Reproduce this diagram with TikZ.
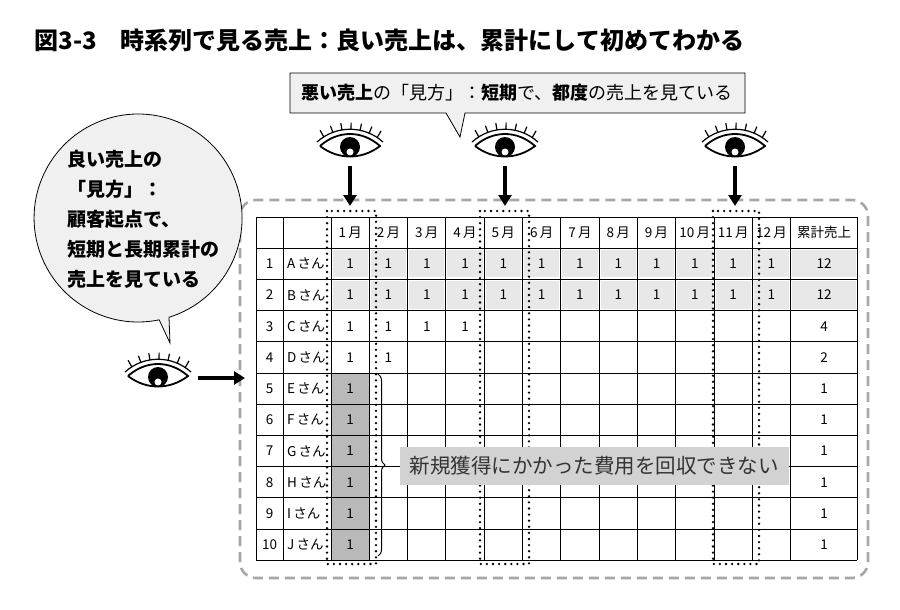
\documentclass[tikz,border=0pt]{standalone}
\usepackage{fontspec}
\setmainfont{Noto Sans CJK JP}
\usetikzlibrary{decorations.pathreplacing,arrows.meta}
\begin{document}
\begin{tikzpicture}[x=1pt,y=-1pt,
  eyepic/.pic={
    \fill[white] (-30,0) .. controls (-12,-16) and (12,-16) .. (30,0) .. controls (12,14) and (-12,14) .. (-30,0);
    \begin{scope}
      \clip (-30,0) .. controls (-12,-16) and (12,-16) .. (30,0) .. controls (12,14) and (-12,14) .. (-30,0);
      \fill[black] (0,1) circle (10);
    \end{scope}
    \fill[white] (0,6) circle (3.5);
    \draw[line width=1.8] (-30,0) .. controls (-12,-16) and (12,-16) .. (30,0) .. controls (12,14) and (-12,14) .. (-30,0);
    \draw[line width=1.2] (-33,-4) .. controls (-14,-21) and (14,-21) .. (33,-4);
    \foreach \u in {-26,-17,-8,1,10,19,27}{
      \draw[line width=1.2] (\u,{-4-12.5*(1-(\u/33)^2)}) -- ({\u*1.15},{-11-12.5*(1-(\u/33)^2)});
    }
  },
  cell/.style={font=\fontsize{13.5}{13.5}\selectfont},
  dotrect/.style={line width=2.6,dash pattern=on 0pt off 6.1pt,line cap=round},
  bigarrow/.style={line width=3.2,-{Triangle[length=11pt,width=13pt]}},
  callout/.style={fill=gray!12,draw=black,line width=0.8}
]
\useasboundingbox (0,0) rectangle (900,610);
\fill[white] (0,0) rectangle (900,610);

\node[anchor=west,font=\bfseries\fontsize{24}{24}\selectfont] (title) at (31,40) {図3-3\quad 時系列で見る売上：良い売上は、累計にして初めてわかる};

% top callout
\draw[callout] (290,73) -- (745,73) -- (745,113) -- (465,113) -- (460,137) -- (446,113) -- (290,113) -- cycle;
\node[font=\fontsize{18}{18}\selectfont] (topcall) at (517,93) {\textbf{悪い売上}の「見方」：\textbf{短期}で、\textbf{都度}の売上を見ている};

% dashed frame
\draw[gray!70,line width=2.6,dash pattern=on 10pt off 6pt,rounded corners=16] (240,200) rectangle (868,578);

% left bubble
\coordinate (btip) at (170,343);
\draw[callout] (btip) -- (169,317.3) arc[start angle=72.7,end angle=-281.7,radius=104] -- cycle;
\node[anchor=north west,align=left,font=\bfseries\fontsize{19}{30}\selectfont] (bubble) at (64,147) {良い売上の\\「見方」：\\顧客起点で、\\短期と長期累計の\\売上を見ている};

% table
\def\mw{38.3}
\def\rh{31.2}
\foreach \r in {1,2}{
  \foreach \k in {1,...,12}{
    \fill[gray!18] ({331+\mw*(\k-1)+1.5},{217+\rh*\r+2}) rectangle ({331+\mw*\k-1.5},{217+\rh*(\r+1)-2});
  }
  \fill[gray!18] (792,{217+\rh*\r+2}) rectangle (855.5,{217+\rh*(\r+1)-2});
}
\fill[gray!55] (331,{217+\rh*5}) rectangle ({331+\mw},{217+\rh*11});
\foreach \r in {0,...,11}{ \draw[line width=0.9] (256,{217+\rh*\r}) -- (857,{217+\rh*\r}); }
\foreach \xx in {256,283}{ \draw[line width=0.9] (\xx,217) -- (\xx,{217+\rh*11}); }
\foreach \k in {0,...,12}{ \draw[line width=0.9] ({331+\mw*\k},217) -- ({331+\mw*\k},{217+\rh*11}); }
\draw[line width=0.9] (857,217) -- (857,{217+\rh*11});
\foreach \k in {1,...,12}{ \node[cell] (h\k) at ({331+\mw*(\k-0.5)},{217+\rh*0.5}) {\k\,月}; }
\node[cell] (htot) at (824,{217+\rh*0.5}) {累計売上};
\foreach \r/\nm/\tot in {1/A/12,2/B/12,3/C/4,4/D/2,5/E/1,6/F/1,7/G/1,8/H/1,9/I/1,10/J/1}{
  \node[cell] (n\r) at (269.5,{217+\rh*(\r+0.5)}) {\r};
  \node[cell,anchor=west,inner xsep=1pt] (c\r) at (286,{217+\rh*(\r+0.5)}) {\nm\,さん};
  \node[cell] (t\r) at (824,{217+\rh*(\r+0.5)}) {\tot};
}
\foreach \r in {1,2}{ \foreach \k in {1,...,12}{ \node[cell] (v\r-\k) at ({331+\mw*(\k-0.5)},{217+\rh*(\r+0.5)}) {1}; } }
\foreach \k in {1,...,4}{ \node[cell] (v3-\k) at ({331+\mw*(\k-0.5)},{217+\rh*3.5}) {1}; }
\foreach \k in {1,2}{ \node[cell] (v4-\k) at ({331+\mw*(\k-0.5)},{217+\rh*4.5}) {1}; }
\foreach \r in {5,...,10}{ \node[cell] (v\r-1) at ({331+\mw*0.5},{217+\rh*(\r+0.5)}) {1}; }

% dotted rectangles
\draw[dotrect] (327,211) rectangle (376,564);
\draw[dotrect] (480,211) rectangle (529,564);
\draw[dotrect] (713,211) rectangle (759,564);

% brace and label
\coordinate (bt) at (378,374);
\coordinate (bb) at (378,556);
\draw[line width=1,decorate,decoration={brace,amplitude=7pt}] (bt) -- (bb);
\node[fill=gray!35,text=black!80,minimum height=38pt,inner xsep=10pt,font=\fontsize{20.5}{20.5}\selectfont] (lost) at (594,466) {新規獲得にかかった費用を回収できない};

% eyes and arrows
\pic at (350,146) {eyepic};
\pic at (505,146) {eyepic};
\pic at (735,146) {eyepic};
\pic at (158,376) {eyepic};
\foreach \i/\xx in {1/350,2/505,3/735}{
  \coordinate (es\i) at (\xx,166);
  \coordinate (ee\i) at (\xx,206);
  \draw[bigarrow] (es\i) -- (ee\i);
}
\coordinate (ls) at (198,378);
\coordinate (le) at (245,378);
\draw[bigarrow] (ls) -- (le);
\end{tikzpicture}
\end{document}
